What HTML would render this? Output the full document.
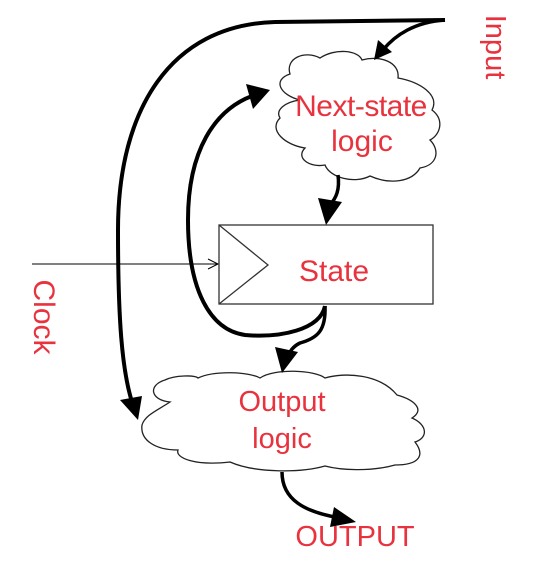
<!DOCTYPE html>
<html><head><meta charset="utf-8"><style>
html,body{margin:0;padding:0;background:#fff;width:552px;height:576px;overflow:hidden}
svg{display:block}
text{font-family:"Liberation Sans",sans-serif;fill:#e8333f}
</style></head><body>
<svg width="552" height="576" viewBox="0 0 552 576" xmlns="http://www.w3.org/2000/svg">
<!-- Next-state cloud -->
<path d="M300,100 C280,95 272,80 290,74 C285,58 305,50 320,58 C335,48 358,50 362,60 C380,55 400,62 398,78 C420,82 440,95 432,110 C445,120 440,135 430,140 C440,150 438,165 420,168 C412,182 390,185 370,176 C355,184 330,178 325,165 C310,168 295,158 305,148 C285,145 268,130 280,118 C275,110 285,102 300,100 Z" fill="#fff" stroke="#222" stroke-width="1.3"/>
<!-- Output cloud -->
<path d="M170,402 C150,400 148,385 165,380 C175,375 195,375 198,378 C215,370 250,372 260,378 C275,368 315,370 325,378 C345,372 380,374 397,395 C415,400 425,410 412,418 C428,425 428,438 415,442 C425,455 420,465 395,465 C370,472 340,470 325,466 C300,473 255,473 230,462 C195,466 175,458 178,450 C155,450 140,440 142,425 C145,415 158,410 170,402 Z" fill="#fff" stroke="#222" stroke-width="1.3"/>
<!-- State box -->
<rect x="219" y="225" width="214" height="79" fill="#fff" stroke="#333" stroke-width="1.3"/>
<path d="M219,225 L268,265 L219,304" fill="none" stroke="#333" stroke-width="1.3"/>
<!-- Clock line -->
<line x1="32" y1="264" x2="218" y2="264" stroke="#000" stroke-width="1"/>
<path d="M208,259 L218,264 L208,269" fill="none" stroke="#000" stroke-width="1"/>
<!-- Big loop -->
<path d="M445,20 L275,22 C170,25 118,110 118,230 C118,320 122,370 132,402" fill="none" stroke="#000" stroke-width="4"/>
<path d="M138,420 L120,400 L142,396 Z" fill="#000"/>
<!-- Input arrow -->
<path d="M445,20 C415,22 395,35 383,50" fill="none" stroke="#000" stroke-width="3.5"/>
<path d="M374,60 L378,40 L392,52 Z" fill="#000"/>
<!-- Inner loop -->
<path d="M325,306 C320,330 280,338 245,335 C210,330 188,290 188,220 C188,150 215,110 252,96" fill="none" stroke="#000" stroke-width="4"/>
<path d="M270,90 L246,84 L253,109 Z" fill="#000"/>
<!-- Next-state to State -->
<path d="M338,175 C340,190 336,198 330,205" fill="none" stroke="#000" stroke-width="3.5"/>
<path d="M326,225 L318,198 L342,202 Z" fill="#000"/>
<!-- State to Output cloud -->
<path d="M325,306 C326,330 318,338 300,343 C292,347 290,352 288,356" fill="none" stroke="#000" stroke-width="3.5"/>
<path d="M282,373 L275,347 L298,352 Z" fill="#000"/>
<!-- Output to OUTPUT -->
<path d="M282,472 C282,500 305,512 340,518" fill="none" stroke="#000" stroke-width="3.5"/>
<path d="M356,522 L334,507 L330,527 Z" fill="#000"/>
<!-- Labels -->
<text x="361" y="116" font-size="30" text-anchor="middle" letter-spacing="-0.5">Next-state</text>
<text x="362" y="151" font-size="30" text-anchor="middle">logic</text>
<text x="334" y="281" font-size="30" text-anchor="middle">State</text>
<text x="282" y="411" font-size="29" text-anchor="middle">Output</text>
<text x="282" y="448" font-size="29" text-anchor="middle">logic</text>
<text x="355" y="546" font-size="29" text-anchor="middle">OUTPUT</text>
<text transform="translate(486,47) rotate(90)" font-size="29" text-anchor="middle">Input</text>
<text transform="translate(34,317) rotate(90)" font-size="30" text-anchor="middle">Clock</text>
</svg>
</body></html>
